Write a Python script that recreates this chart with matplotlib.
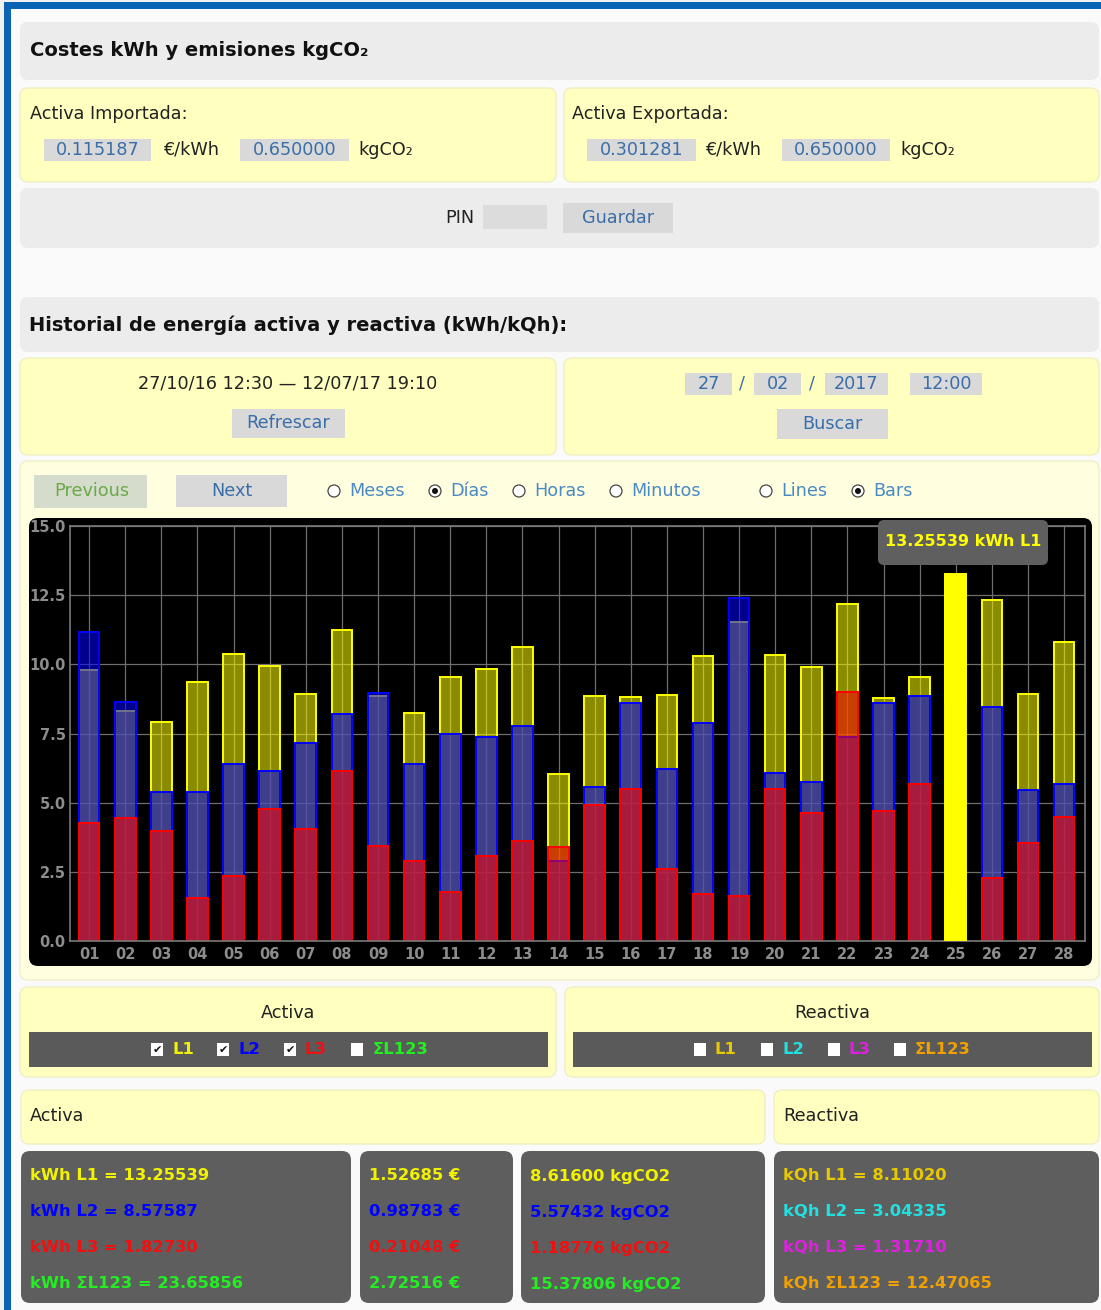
import numpy as np
import matplotlib
matplotlib.use("Agg")
from matplotlib import pyplot as plt
from matplotlib.patches import FancyBboxPatch, Rectangle, Circle
from matplotlib.colors import to_rgba

plt.rcParams['font.family'] = ['DejaVu Sans']

# ---- chart data (kWh per day, February 2017) ----
days = np.arange(1, 29)
day_labels = ['%02d' % d for d in days]
kwh_l1 = [9.80, 8.33, 7.91, 9.35, 10.38, 9.95, 8.91, 11.23, 8.87, 8.24, 9.55, 9.83, 10.64, 6.05,
          8.85, 8.83, 8.89, 10.30, 11.52, 10.32, 9.89, 12.18, 8.78, 9.56, 13.25539, 12.31, 8.91, 10.79]
kwh_l2 = [11.18, 8.65, 5.40, 5.40, 6.38, 6.14, 7.16, 8.19, 8.96, 6.40, 7.49, 7.39, 7.78, 2.89,
          5.55, 8.61, 6.23, 7.87, 12.38, 6.09, 5.73, 7.36, 8.61, 8.85, 8.57587, 8.47, 5.46, 5.68]
kwh_l3 = [4.28, 4.43, 3.97, 1.56, 2.34, 4.76, 4.06, 6.14, 3.44, 2.88, 1.76, 3.06, 3.61, 3.38,
          4.93, 5.51, 2.59, 1.69, 1.63, 5.49, 4.63, 9.01, 4.71, 5.66, 1.82730, 2.27, 3.56, 4.47]
y_ticks = [0.0, 2.5, 5.0, 7.5, 10.0, 12.5, 15.0]
hover_day = 25

# ---- summary panels ----
line_names = ['L1', 'L2', 'L3', 'ΣL123']
act_kwh = [13.25539, 8.57587, 1.82730, 23.65856]
act_eur = [1.52685, 0.98783, 0.21048, 2.72516]
act_co2 = [8.61600, 5.57432, 1.18776, 15.37806]
rea_kqh = [8.11020, 3.04335, 1.31710, 12.47065]
act_colors = ['#f2f200', '#0000ff', '#ee1111', '#22ee22']
rea_colors = ['#e8c800', '#22e0e0', '#e020e0', '#f0a000']

price_imp = [0.115187, 0.650000]
price_exp = [0.301281, 0.650000]

W, H = 1101, 1310
fig = plt.figure(figsize=(W / 100, H / 100), dpi=100)
fig.patch.set_facecolor('#f0f0f0')
bg = fig.add_axes([0, 0, 1, 1])
bg.set_xlim(0, W)
bg.set_ylim(H, 0)
bg.axis('off')

TXT = '#222222'
LINK = '#3a6ea8'
GRAY_BOX = '#ececec'
YEL = '#ffffbf'
BTN = '#d9d9d9'
DARK = '#5e5e5e'
FS = 12.7


def box(ax, x0, y0, x1, y1, fc, r=8, ec='none', lw=0):
    ax.add_patch(FancyBboxPatch((x0, y0), x1 - x0, y1 - y0,
                                boxstyle="round,pad=0,rounding_size=%g" % r,
                                fc=fc, ec=ec, lw=lw))


def txt(ax, x, y, s, size=FS, color=TXT, weight='normal', ha='left'):
    ax.text(x, y, s, fontsize=size, color=color, fontweight=weight, ha=ha, va='center')


def field(x0, y0, x1, y1, s):
    bg.add_patch(Rectangle((x0, y0), x1 - x0, y1 - y0, fc=BTN, ec='none'))
    txt(bg, (x0 + x1) / 2, (y0 + y1) / 2, s, color=LINK, ha='center')


# page + blue border
bg.add_patch(Rectangle((11, 9), W, H, fc='#fafafa', ec='none'))
bg.add_patch(Rectangle((4, 2), 7, H, fc='#0a64b4', ec='none'))
bg.add_patch(Rectangle((4, 2), W, 7, fc='#0a64b4', ec='none'))

# costes
box(bg, 20, 22, 1099, 80, GRAY_BOX)
txt(bg, 30, 50, 'Costes kWh y emisiones kgCO₂', 14, '#111111', 'bold')
box(bg, 20, 88, 556, 182, YEL, ec='#efefc4', lw=1)
box(bg, 564, 88, 1099, 182, YEL, ec='#efefc4', lw=1)
txt(bg, 30, 114, 'Activa Importada:')
txt(bg, 572, 114, 'Activa Exportada:')
field(44, 139, 151, 161, '%.6f' % price_imp[0])
txt(bg, 163, 150, '€/kWh')
field(240, 139, 349, 161, '%.6f' % price_imp[1])
txt(bg, 358, 150, 'kgCO₂')
field(587, 139, 696, 161, '%.6f' % price_exp[0])
txt(bg, 705, 150, '€/kWh')
field(782, 139, 890, 161, '%.6f' % price_exp[1])
txt(bg, 900, 150, 'kgCO₂')

box(bg, 20, 188, 1099, 248, GRAY_BOX)
txt(bg, 474, 218, 'PIN', ha='right')
bg.add_patch(Rectangle((483, 205), 64, 24, fc='#dcdcdc', ec='none'))
field(563, 203, 673, 233, 'Guardar')

# historial
box(bg, 20, 297, 1099, 352, GRAY_BOX)
txt(bg, 29, 325, 'Historial de energía activa y reactiva (kWh/kQh):', 14, '#111111', 'bold')
box(bg, 20, 358, 556, 455, YEL, ec='#efefc4', lw=1)
box(bg, 564, 358, 1099, 455, YEL, ec='#efefc4', lw=1)
txt(bg, 288, 384, '27/10/16 12:30 — 12/07/17 19:10', ha='center')
field(232, 409, 345, 438, 'Refrescar')
field(685, 373, 732, 395, '27')
txt(bg, 742, 384, '/', color=LINK, ha='center')
field(754, 373, 801, 395, '02')
txt(bg, 812, 384, '/', color=LINK, ha='center')
field(825, 373, 888, 395, '2017')
field(910, 373, 982, 395, '12:00')
field(777, 409, 888, 439, 'Buscar')

# chart container
box(bg, 20, 461, 1099, 980, '#ffffe0', ec='#efefc8', lw=1)
bg.add_patch(Rectangle((34, 475), 113, 33, fc='#d6dccb', ec='none'))
txt(bg, 92, 491, 'Previous', color='#6aa84a', ha='center')
bg.add_patch(Rectangle((176, 475), 111, 32, fc=BTN, ec='none'))
txt(bg, 232, 491, 'Next', color=LINK, ha='center')
radios = [('Meses', 334, False), ('Días', 435, True), ('Horas', 519, False),
          ('Minutos', 616, False), ('Lines', 766, False), ('Bars', 858, True)]
for name, cx, sel in radios:
    bg.add_patch(Circle((cx, 491), 6, fc='white', ec='#444444', lw=0.9))
    if sel:
        bg.add_patch(Circle((cx, 491), 3, fc='#111111', ec='none'))
    txt(bg, cx + 15, 491, name, color='#4a8ac4')
box(bg, 29, 518, 1092, 966, 'black', r=9)

# activa / reactiva checkboxes
box(bg, 20, 987, 556, 1077, YEL, ec='#efefc4', lw=1)
box(bg, 565, 987, 1099, 1077, YEL, ec='#efefc4', lw=1)
txt(bg, 288, 1013, 'Activa', ha='center')
txt(bg, 832, 1013, 'Reactiva', ha='center')
bg.add_patch(Rectangle((29, 1032), 519, 35, fc='#5a5a5a', ec='none'))
bg.add_patch(Rectangle((573, 1032), 519, 35, fc='#5a5a5a', ec='none'))
act_cb = [157, 223, 290, 357]
rea_cb = [700, 767, 834, 900]
for i, name in enumerate(line_names):
    for cx, col, chk in [(act_cb[i], act_colors[i], i < 3), (rea_cb[i], rea_colors[i], False)]:
        bg.add_patch(Rectangle((cx - 6, 1043), 12, 13, fc='white', ec='none'))
        if chk:
            txt(bg, cx, 1050, '✔', 8, '#111111', 'bold', 'center')
        txt(bg, cx + 15, 1050, name, 11.8, col, 'bold')

# summary
box(bg, 21, 1090, 765, 1144, YEL, ec='#efefc4', lw=1)
box(bg, 774, 1090, 1099, 1144, YEL, ec='#efefc4', lw=1)
txt(bg, 30, 1116, 'Activa')
txt(bg, 783, 1116, 'Reactiva')
for x0, x1 in [(21, 351), (360, 513), (521, 765), (774, 1099)]:
    box(bg, x0, 1151, x1, 1303, DARK, r=9)
rows_y = [1176, 1212, 1248, 1284]
for i, name in enumerate(line_names):
    y = rows_y[i]
    txt(bg, 30, y, 'kWh %s = %.5f' % (name, act_kwh[i]), 11.8, act_colors[i], 'bold')
    txt(bg, 369, y, '%.5f €' % act_eur[i], 11.8, act_colors[i], 'bold')
    txt(bg, 530, y, '%.5f kgCO2' % act_co2[i], 11.8, act_colors[i], 'bold')
    txt(bg, 783, y, 'kQh %s = %.5f' % (name, rea_kqh[i]), 11.8, rea_colors[i], 'bold')

# ---- the bar chart ----
ax = fig.add_axes([70 / W, 1 - 941 / H, (1085 - 70) / W, (941 - 526) / H])
ax.set_facecolor('black')
series = [(kwh_l1, '#ffff00'), (kwh_l2, '#0000ff'), (kwh_l3, '#ff0000')]
for vals, c in series:
    ax.bar(days, vals, width=0.57, color=to_rgba(c, 0.55), edgecolor=c, linewidth=1.4)
ax.bar(hover_day, kwh_l1[hover_day - 1], width=0.57, color='#ffff00',
       edgecolor='#ffff00', linewidth=1.4, zorder=5)
ax.set_xlim(0.47, 28.58)
ax.set_ylim(0, 15)
ax.set_xticks(days, day_labels)
ax.set_yticks(y_ticks, ['%.1f' % v for v in y_ticks])
ax.grid(True, color='#6e6e6e', lw=0.9)
ax.set_axisbelow(True)
ax.tick_params(length=0, colors='#8c8c8c', labelsize=10.5)
ax.tick_params(axis='x', pad=4)
ax.tick_params(axis='y', pad=3)
for lab in ax.get_xticklabels() + ax.get_yticklabels():
    lab.set_fontweight('bold')
for s in ax.spines.values():
    s.set_color('#7a7a7a')
    s.set_linewidth(1.2)

# tooltip on top
ov = fig.add_axes([0, 0, 1, 1])
ov.set_xlim(0, W)
ov.set_ylim(H, 0)
ov.axis('off')
ov.patch.set_alpha(0)
box(ov, 878, 520, 1048, 565, '#5f5f5f', r=6)
txt(ov, 963, 541, '%.5f kWh L1' % kwh_l1[hover_day - 1], 11.5, '#ffff00', 'bold', 'center')

fig.savefig('out.png', dpi=100)
